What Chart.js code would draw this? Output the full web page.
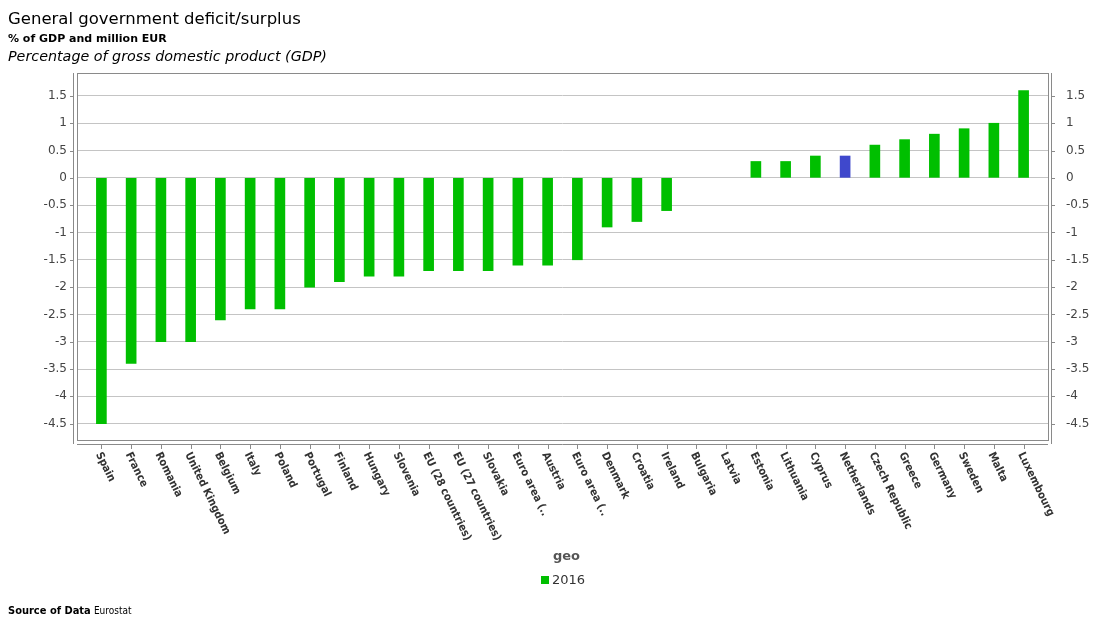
<!DOCTYPE html>
<html>
<head>
<meta charset="utf-8">
<script src="https://cdn.jsdelivr.net/npm/chart.js@4"></script>
<style>
  body { margin: 0; background: #fff; }
  #wrap { position: relative; width: 1114px; height: 622px; font-family: "DejaVu Sans", sans-serif; }
  #wrap div { position: absolute; white-space: nowrap; color: #000; }
  .title { left: 8px; top: 9px; font-size: 16.5px; }
  .sub { left: 8px; top: 32px; font-size: 11px; font-weight: bold; }
  .unit { left: 8px; top: 48px; font-size: 14.3px; font-style: italic; }
  .geo { left: 553px; top: 548px; font-size: 13px; font-weight: bold; color: #555 !important; }
  .legend { left: 541px; top: 572px; font-size: 13px; color: #333 !important; }
  .legend span { display: inline-block; width: 8px; height: 8px; background: #00bf00; margin-right: 3px; }
  .source { left: 8px; top: 604px; font-size: 11px; font-family: "DejaVu Sans Condensed", "DejaVu Sans", sans-serif; }
  .source i { font-style: normal; font-size: 10px; font-stretch: condensed; }
</style>
</head>
<body>
<div id="wrap">
  <canvas id="chart" width="1114" height="622"></canvas>
  <div class="title">General government deficit/surplus</div>
  <div class="sub">% of GDP and million EUR</div>
  <div class="unit">Percentage of gross domestic product (GDP)</div>
  <div class="geo">geo</div>
  <div class="legend"><span></span>2016</div>
  <div class="source"><b>Source of Data</b> <i>Eurostat</i></div>
</div>
<script>
// categories and values, 2016, % of GDP
var geo = ['Spain', 'France', 'Romania', 'United Kingdom', 'Belgium', 'Italy', 'Poland', 'Portugal',
  'Finland', 'Hungary', 'Slovenia', 'EU (28 countries)', 'EU (27 countries)', 'Slovakia',
  'Euro area (..', 'Austria', 'Euro area (..', 'Denmark', 'Croatia', 'Ireland', 'Bulgaria', 'Latvia',
  'Estonia', 'Lithuania', 'Cyprus', 'Netherlands', 'Czech Republic', 'Greece', 'Germany', 'Sweden',
  'Malta', 'Luxembourg'];
var values2016 = [-4.5, -3.4, -3.0, -3.0, -2.6, -2.4, -2.4, -2.0,
  -1.9, -1.8, -1.8, -1.7, -1.7, -1.7,
  -1.6, -1.6, -1.5, -0.9, -0.8, -0.6, null, null,
  0.3, 0.3, 0.4, 0.4, 0.6, 0.7, 0.8, 0.9,
  1.0, 1.6];
var highlighted = 'Netherlands';

var GREEN = '#00bf00';
var BLUE = '#3f48cc';

// bars sit on a linear index axis so the outer margins can match the original
var points = values2016.map(function (v, i) { return { x: i, y: v }; });
var barColors = geo.map(function (g) { return g === highlighted ? BLUE : GREEN; });

// "1" not "1.0", like the original
function tickText(value) {
  return String(Math.round(value * 10) / 10);
}

// frame, axis lines, x ticks and rotated category labels
var framePlugin = {
  id: 'frame',
  afterDraw: function (chart) {
    var ctx = chart.ctx;
    var a = chart.chartArea;
    var xs = chart.scales.x;
    var ys = chart.scales.y;
    ctx.save();
    ctx.strokeStyle = '#8a8a8a';
    ctx.lineWidth = 1;
    ctx.strokeRect(Math.round(a.left) + 0.5, Math.round(a.top) + 0.5,
      Math.round(a.right - a.left), Math.round(a.bottom - a.top));
    ctx.beginPath();
    // left axis
    ctx.moveTo(a.left - 3.5, a.top);
    ctx.lineTo(a.left - 3.5, a.bottom + 4);
    // right axis
    ctx.moveTo(a.right + 3.5, a.top);
    ctx.lineTo(a.right + 3.5, a.bottom + 4);
    // bottom axis
    ctx.moveTo(a.left, a.bottom + 4.5);
    ctx.lineTo(a.right, a.bottom + 4.5);
    ctx.stroke();

    // y tick marks on both sides
    ctx.beginPath();
    ys.ticks.forEach(function (t) {
      var y = Math.round(ys.getPixelForValue(t.value)) + 0.5;
      ctx.moveTo(a.left - 7, y);
      ctx.lineTo(a.left - 3.5, y);
      ctx.moveTo(a.right + 3.5, y);
      ctx.lineTo(a.right + 7, y);
    });
    // x tick marks
    geo.forEach(function (g, i) {
      var x = Math.round(xs.getPixelForValue(i)) + 0.5;
      ctx.moveTo(x, a.bottom + 4.5);
      ctx.lineTo(x, a.bottom + 9);
    });
    ctx.stroke();

    // category labels, rotated
    ctx.fillStyle = '#333';
    ctx.font = "bold 11px 'DejaVu Sans Condensed', 'DejaVu Sans', sans-serif";
    ctx.textAlign = 'left';
    ctx.textBaseline = 'middle';
    geo.forEach(function (g, i) {
      var x = xs.getPixelForValue(i);
      ctx.save();
      ctx.translate(x - 3, a.bottom + 13);
      ctx.rotate(64 * Math.PI / 180);
      ctx.fillText(g, 0, 0);
      ctx.restore();
    });
    ctx.restore();
  }
};

var ctx = document.getElementById('chart').getContext('2d');
var chart = new Chart(ctx, {
  type: 'bar',
  data: {
    datasets: [{
      label: '2016',
      data: points,
      backgroundColor: barColors,
      barThickness: 10,
      borderWidth: 0
    }]
  },
  options: {
    responsive: false,
    animation: false,
    devicePixelRatio: 1,
    layout: { padding: { top: 73, left: 0, right: 0, bottom: 0 } },
    plugins: {
      legend: { display: false },
      tooltip: { enabled: false }
    },
    scales: {
      x: {
        type: 'linear',
        min: -0.82,
        max: geo.length - 1 + 0.82,
        offset: false,
        grid: { display: false },
        border: { display: false },
        ticks: { display: false, stepSize: 1 },
        afterFit: function (s) { s.height = 182; }
      },
      y: {
        position: 'left',
        min: -4.8,
        max: 1.92,
        grid: { color: '#c4c4c4', drawTicks: false },
        border: { display: false },
        ticks: {
          stepSize: 0.5,
          includeBounds: false,
          padding: 10,
          color: '#444',
          font: { family: 'DejaVu Sans', size: 12 },
          callback: tickText
        },
        afterFit: function (s) { s.width = 77; }
      },
      y2: {
        position: 'right',
        min: -4.8,
        max: 1.92,
        grid: { display: false },
        border: { display: false },
        ticks: {
          stepSize: 0.5,
          includeBounds: false,
          padding: 10,
          color: '#444',
          font: { family: 'DejaVu Sans', size: 12 },
          callback: tickText
        },
        afterFit: function (s) { s.width = 66; }
      }
    }
  },
  plugins: [framePlugin]
});
</script>
</body>
</html>
